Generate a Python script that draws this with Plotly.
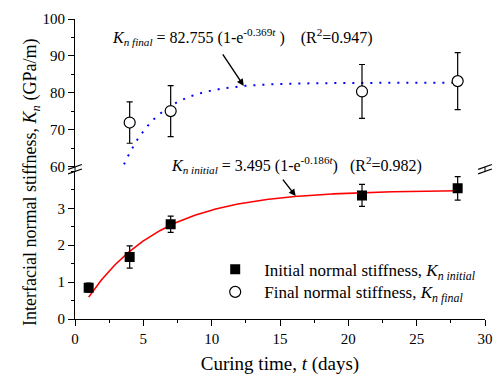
import numpy as np
import plotly.graph_objects as go

# ---- data ----
days = [1, 4, 7, 21, 28]
k_initial = [0.85, 1.68, 2.57, 3.35, 3.54]
k_initial_err = [0.12, 0.30, 0.22, 0.30, 0.32]

days_final = [4, 7, 21, 28]
k_final = [72.0, 75.1, 80.4, 83.2]
k_final_err = [5.6, 6.9, 7.3, 7.7]

# fitted model parameters (from the equations on the chart)
fit_initial_a, fit_initial_b = 3.495, 0.186
fit_final_a, fit_final_b = 82.755, 0.369
fit_t_start, fit_t_end = 1, 28

x_ticks = [0, 5, 10, 15, 20, 25, 30]
y_low_ticks = [0, 1, 2, 3]
y_high_ticks = [60, 70, 80, 90, 100]

FONT = "Liberation Serif"

t_fit = np.linspace(fit_t_start, fit_t_end, 300)
fit_initial = fit_initial_a * (1 - np.exp(-fit_initial_b * t_fit))
fit_final = fit_final_a * (1 - np.exp(-fit_final_b * t_fit))

fig = go.Figure()

fig.add_trace(go.Scatter(x=t_fit, y=fit_initial, mode="lines",
                         line=dict(color="#ff0000", width=1.6),
                         showlegend=False, hoverinfo="skip", xaxis="x", yaxis="y"))
fig.add_trace(go.Scatter(x=t_fit, y=fit_final, mode="lines",
                         line=dict(color="#0000ff", width=2, dash="2px,7px"),
                         showlegend=False, hoverinfo="skip", xaxis="x", yaxis="y2"))

fig.add_trace(go.Scatter(
    x=days, y=k_initial, mode="markers",
    name="Initial normal stiffness, <i>K</i><sub><i>n initial</i></sub>",
    marker=dict(symbol="square", size=10, color="black"),
    error_y=dict(type="data", array=k_initial_err, color="black", thickness=1.2, width=3),
    xaxis="x", yaxis="y", legend="legend"))
fig.add_trace(go.Scatter(
    x=days_final, y=k_final, mode="markers",
    name="Final normal stiffness, <i>K</i><sub><i>n final</i></sub>",
    marker=dict(symbol="circle", size=11, color="white", line=dict(color="black", width=1.2)),
    error_y=dict(type="data", array=k_final_err, color="black", thickness=1.2, width=3),
    xaxis="x", yaxis="y2", legend="legend2"))

low_top = 0.492
high_bot = 0.507

axis_common = dict(showline=True, linecolor="black", linewidth=1, showgrid=False,
                   zeroline=False, tickcolor="black",
                   tickfont=dict(family=FONT, size=15, color="black"))

legend_common = dict(xanchor="left", yanchor="top", bgcolor="rgba(0,0,0,0)",
                     font=dict(family=FONT, size=17, color="black"), itemwidth=48)

fig.update_layout(
    width=504, height=381,
    margin=dict(l=75, r=11, t=15, b=61),
    paper_bgcolor="white", plot_bgcolor="white",
    font=dict(family=FONT, color="black"),
    xaxis=dict(anchor="y", domain=[0, 1], range=[0, 30], tickvals=x_ticks,
               ticks="outside", ticklen=6,
               minor=dict(dtick=2.5, ticks="outside", ticklen=3, tickcolor="black"),
               title=dict(text="Curing time, <i>t</i> (days)", font=dict(family=FONT, size=19),
                          standoff=10),
               **axis_common),
    xaxis2=dict(anchor="y2", matches="x", range=[0, 30], side="top", showticklabels=False,
                tickvals=[i * 2.5 for i in range(13)], ticks="inside", ticklen=4,
                **axis_common),
    yaxis=dict(anchor="x", domain=[0, low_top], range=[0, 4.0], tickvals=y_low_ticks,
               ticks="outside", ticklen=6,
               minor=dict(dtick=0.5, ticks="outside", ticklen=3, tickcolor="black"),
               **axis_common),
    yaxis2=dict(anchor="x", domain=[high_bot, 1], range=[60, 100], tickvals=y_high_ticks,
                ticks="outside", ticklen=6,
                minor=dict(dtick=5, ticks="outside", ticklen=3, tickcolor="black"),
                **axis_common),
    yaxis3=dict(overlaying="y", side="right", anchor="x", range=[0, 4.0],
                showticklabels=False, dtick=0.5, ticks="inside", ticklen=4, **axis_common),
    yaxis4=dict(overlaying="y2", side="right", anchor="x", range=[60, 100],
                showticklabels=False, dtick=5, ticks="inside", ticklen=4, **axis_common),
    legend=dict(x=0.32, y=0.224, **legend_common),
    legend2=dict(x=0.32, y=0.149, **legend_common),
    showlegend=True,
)

# y axis title as annotation (spans both segments)
fig.add_annotation(xref="paper", yref="paper", x=-0.106, y=0.455, xanchor="center", yanchor="middle",
                   text="Interfacial normal stiffness, <i>K</i><sub><i>n</i></sub> (GPa/m)",
                   textangle=-90, showarrow=False, font=dict(family=FONT, size=18, color="black"))

nb = "\u00a0"
fig.add_annotation(xref="paper", yref="paper", x=0.086, y=0.94, xanchor="left", yanchor="middle",
                   text="<i>K</i><sub><i>n final</i></sub> = 82.755 (1-e<sup>-0.369<i>t</i></sup>" + nb + ")"
                        + nb * 4 + "(R<sup>2</sup>=0.947)",
                   showarrow=False, font=dict(family=FONT, size=16, color="black"))
fig.add_annotation(xref="paper", yref="paper", x=0.229, y=0.512, xanchor="left", yanchor="middle",
                   text="<i>K</i><sub><i>n initial</i></sub> = 3.495 (1-e<sup>-0.186<i>t</i></sup>)"
                        + nb * 3 + "(R<sup>2</sup>=0.982)",
                   showarrow=False, font=dict(family=FONT, size=16, color="black"))

# arrows
fig.add_annotation(xref="x", yref="y2", x=12.35, y=81.9, ax=-22, ay=-33, text="",
                   showarrow=True, arrowhead=2, arrowsize=1, arrowwidth=1.4, arrowcolor="black")
fig.add_annotation(xref="x", yref="y", x=16.15, y=3.33, ax=-14, ay=-18, text="",
                   showarrow=True, arrowhead=2, arrowsize=1, arrowwidth=1.4, arrowcolor="black")

# axis break marks
dx = 7 / 418
dy = 2.5 / 305
for xp in (0, 1):
    for yp in (low_top, high_bot):
        fig.add_shape(type="line", xref="paper", yref="paper",
                      x0=xp - dx, y0=yp - dy, x1=xp + dx, y1=yp + dy,
                      line=dict(color="black", width=1.2))
    fig.add_shape(type="line", xref="paper", yref="paper",
                  x0=xp, y0=low_top, x1=xp, y1=high_bot,
                  line=dict(color="black", width=1))

fig.write_html("out.html")
